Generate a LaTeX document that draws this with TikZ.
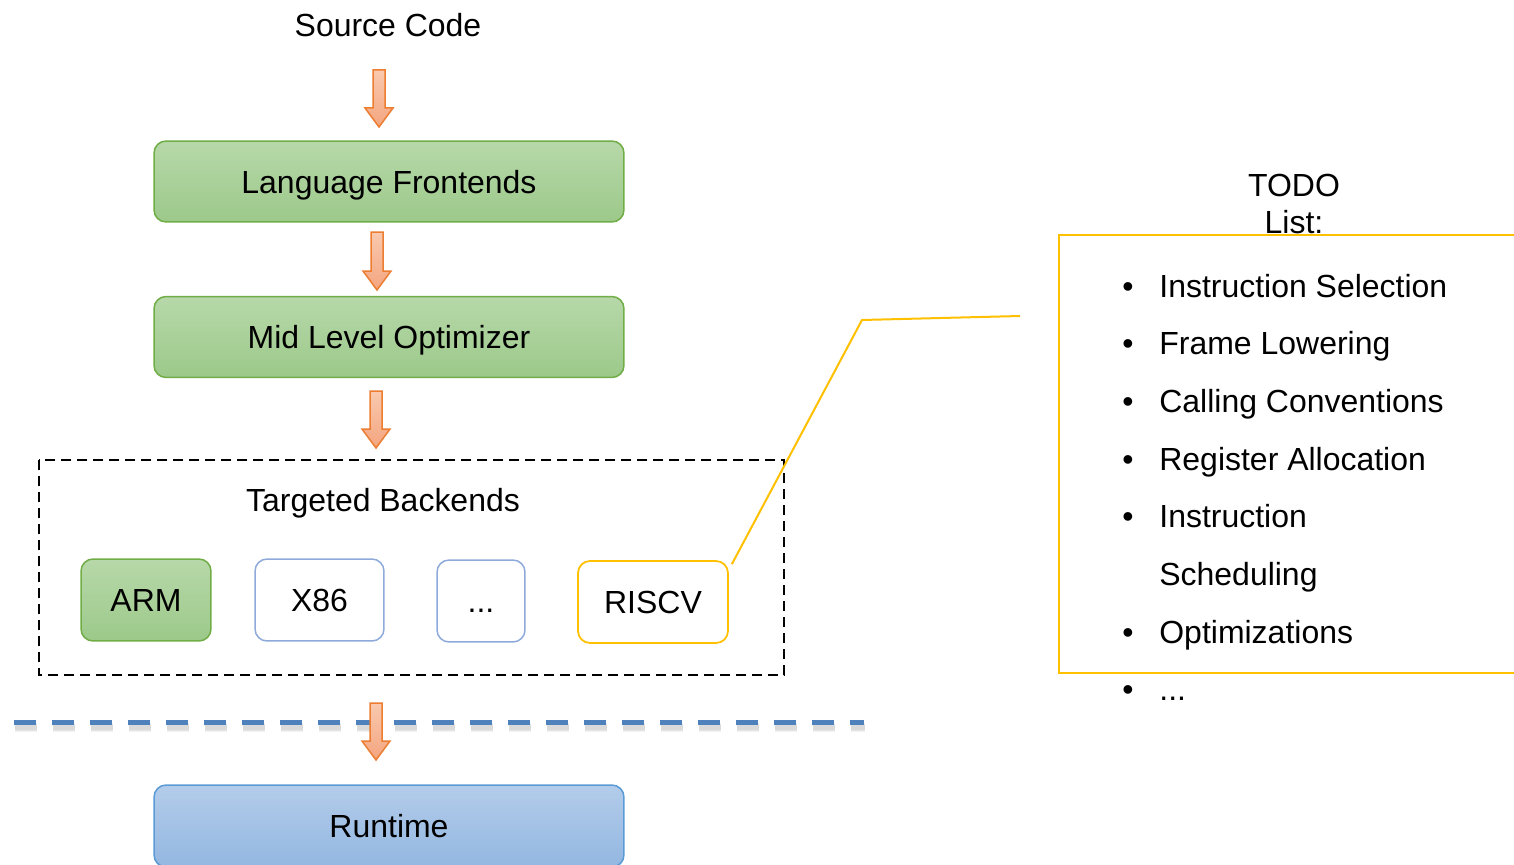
\documentclass[tikz,border=0pt]{standalone}
\usepackage{fontspec}
\setmainfont{Liberation Sans}
\definecolor{greentop}{HTML}{B7D8A9}
\definecolor{greenbot}{HTML}{9CC98A}
\definecolor{greenline}{HTML}{70AD47}
\definecolor{bluetop}{HTML}{B3CCEA}
\definecolor{bluebot}{HTML}{93B7E1}
\definecolor{blueline}{HTML}{5B9BD5}
\definecolor{paleblue}{HTML}{8EAADB}
\definecolor{dashblue}{HTML}{4F81BD}
\definecolor{amber}{HTML}{FFC000}
\definecolor{arrowtop}{HTML}{F9C9AF}
\definecolor{arrowbot}{HTML}{F4A57F}
\definecolor{arrowline}{HTML}{ED7D31}
\newcommand{\flowarrow}[3]{% x, top y, tip y
  \draw[flowarrowstyle] (#1-6,#2) -- (#1+6,#2) -- (#1+6,#3-19) -- (#1+14,#3-19)
    -- (#1,#3) -- (#1-14,#3-19) -- (#1-6,#3-19) -- cycle;}
\begin{document}
\begin{tikzpicture}[x=0.02cm,y=-0.02cm,
  font=\fontsize{18.2}{22}\selectfont,
  txt/.style={inner sep=0pt, text height=13.6pt, text depth=0pt},
  box/.style={txt, rounded corners=0.24cm, line width=0.03cm, align=center},
  greenbox/.style={box, draw=greenline, top color=greentop, bottom color=greenbot},
  bluebox/.style={box, draw=blueline, top color=bluetop, bottom color=bluebot},
  plainbox/.style={box, draw=paleblue, fill=white},
  amberbox/.style={box, draw=amber, line width=0.035cm, fill=white},
  flowarrowstyle/.style={draw=arrowline, line width=0.03cm, top color=arrowtop, bottom color=arrowbot, line join=miter},
  groupframe/.style={draw=black, line width=0.04cm, dash pattern=on 0.2cm off 0.12cm},
  tierline/.style={draw=dashblue, line width=0.1cm, dash pattern=on 0.44cm off 0.32cm},
  tiershadow/.style={draw=black, opacity=0.05, dash pattern=on 0.44cm off 0.32cm},
  callout/.style={draw=amber, line width=0.04cm},
  listitem/.style={anchor=base west, inner sep=0pt},
  bullet/.style={anchor=base, inner sep=0pt}
]
\useasboundingbox (0,0) rectangle (1514,865);
\clip (0,0) rectangle (1514,865);

% compiler pipeline
\node[txt] (src) at (388,25) {Source Code};
\node[greenbox, minimum width=9.4cm, minimum height=1.62cm] (lf) at (389,181.5) {Language Frontends};
\node[greenbox, minimum width=9.4cm, minimum height=1.62cm] (mlo) at (389,337) {Mid Level Optimizer};

\flowarrow{379}{70}{127}
\flowarrow{377}{232}{290}
\flowarrow{376}{391}{448}

% backend group
\draw[groupframe] (39,460) rectangle (784,675);
\node[txt] (tb) at (383,500) {Targeted Backends};
\node[greenbox, minimum width=2.6cm, minimum height=1.64cm] (arm) at (146,600) {ARM};
\node[plainbox, minimum width=2.58cm, minimum height=1.64cm] (x86) at (319.5,600) {X86};
\node[plainbox, minimum width=1.76cm, minimum height=1.64cm] (more) at (481,601) {...};
\node[amberbox, minimum width=3.0cm, minimum height=1.64cm] (riscv) at (653,602) {RISCV};

% runtime boundary with a soft drop shadow
\foreach \w in {0.18,0.14,0.1}{
  \draw[tiershadow, line width=\w cm] (15,727) -- (865,727);
}
\draw[tierline] (14,722) -- (864,722);
\flowarrow{376}{703}{760}
\node[bluebox, minimum width=9.4cm, minimum height=1.64cm] (rt) at (389,826) {Runtime};

% TODO list
\draw[callout, line width=0.05cm] (1530,235) -- (1059,235) -- (1059,673) -- (1530,673);
\node[txt] (todo) at (1294,185) {TODO};
\node[txt] (listlbl) at (1294,222) {List:};
\coordinate (calloutend) at (1020,316);
\coordinate (calloutbend) at (862,320);
\draw[callout] ([xshift=0.06cm,yshift=-0.08cm]riscv.north east) -- (calloutbend) -- (calloutend);

\foreach \k/\lbl in {0/Instruction Selection, 1/Frame Lowering, 2/Calling Conventions,
                     3/Register Allocation, 4/Instruction, 6/Optimizations}{
  \node[bullet] at (1128,{297+57.7*\k}) {•};
  \node[listitem] at (1159,{297+57.7*\k}) {\lbl};
}
\node[listitem] at (1159,{297+57.7*5}) {Scheduling};
\node[bullet] at (1128,{297+57.7*7}) {•};
\node[listitem] at (1159,{297+57.7*7}) {...};
\end{tikzpicture}
\end{document}
